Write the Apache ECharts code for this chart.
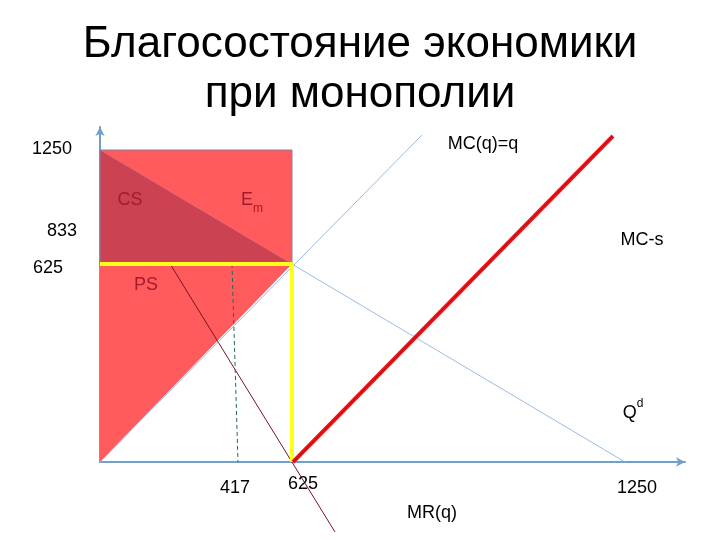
<!DOCTYPE html>
<html>
<head>
<meta charset="utf-8">
<script src="https://cdn.jsdelivr.net/npm/echarts@6/dist/echarts.min.js"></script>
<style>
  html, body { margin: 0; padding: 0; background: #fff; }
  #chart { width: 720px; height: 540px; }
</style>
</head>
<body>
<div id="chart"></div>
<script>
// схема в условных единицах (начало координат = 0,0)
const demandLine = [[0, 312], [525, 0]]        // Qd
const mcLine = [[0, 0], [322, 327]]            // MC(q)=q
const mcTaxLine = [[193, 0], [513, 326]]       // MC-s
const mrLine = [[0, 312], [235, -70]]          // MR(q)
const qEffLine = [[132, 198], [138, 0]]        // 417, пунктир
const yellowLines = [[0, 198], [192, 198], [192, 0]]
const csArea = [[0, 312], [0, 198], [192, 198]]
const emArea = [[0, 312], [192, 312], [192, 198]]
const psArea = [[0, 0], [0, 198], [192, 198]]
const rectArea = [[0, 198], [0, 312], [192, 312], [192, 198]]

const xTickLabels = ['417', '625', '1250']
const yTickLabels = ['1250', '833', '625']
const titleLines = ['Благосостояние экономики', 'при монополии']

const FONT = '"Liberation Sans", Arial, sans-serif'

const chart = echarts.init(document.getElementById('chart'))

function polygonSeries(points, style, z) {
  return {
    type: 'custom',
    z: z,
    silent: true,
    data: [[0, 0]],
    renderItem: function(params, api) {
      return {
        type: 'polygon',
        shape: { points: points.map(p => api.coord(p)) },
        style: style
      }
    }
  }
}

function lineSeries(data, color, width, z, type) {
  return {
    type: 'line',
    data: data,
    symbol: 'none',
    clip: false,
    silent: true,
    z: z,
    lineStyle: { color: color, width: width, type: type || 'solid' }
  }
}

function label(text, x, y, color, rich, size) {
  return {
    type: 'text',
    x: x,
    y: y,
    z: 100,
    style: {
      text: text,
      fill: color || '#000',
      font: (size || 18) + 'px ' + FONT,
      textAlign: 'center',
      textVerticalAlign: 'middle',
      rich: rich
    }
  }
}

chart.setOption({
  animation: false,
  grid: { left: 100, right: 35, top: 127, bottom: 78 },
  xAxis: {
    type: 'value',
    min: 0,
    max: 585,
    axisLine: {
      onZero: true,
      symbol: ['none', 'arrow'],
      symbolSize: [7, 9],
      lineStyle: { color: '#6f9fcb', width: 2 }
    },
    axisTick: { show: false },
    axisLabel: { show: false },
    splitLine: { show: false }
  },
  yAxis: {
    type: 'value',
    min: 0,
    max: 335,
    axisLine: {
      symbol: ['none', 'arrow'],
      symbolSize: [7, 9],
      lineStyle: { color: '#6f9fcb', width: 2 }
    },
    axisTick: { show: false },
    axisLabel: { show: false },
    splitLine: { show: false }
  },
  series: [
    polygonSeries(psArea, { fill: '#ff5a5c' }, 1),
    lineSeries(demandLine, '#9bbbe2', 1, 2),
    lineSeries(mrLine, '#7a1424', 1, 2),
    lineSeries(qEffLine, '#1f6a5e', 1, 2, [4, 3]),
    polygonSeries(emArea, { fill: '#ff5a5c' }, 3),
    polygonSeries(csArea, { fill: '#cc4253' }, 3),
    polygonSeries(rectArea, { fill: 'none', stroke: '#8a7f9c', lineWidth: 1 }, 4),
    lineSeries(mcLine, '#9bbbe2', 1, 4),
    lineSeries(yellowLines, '#ffff1a', 4, 6),
    lineSeries(mcTaxLine, '#f01418', 4, 7),
    lineSeries(mcTaxLine, '#b00a10', 1, 8)
  ],
  graphic: [
    label(titleLines[0], 360, 45, '#000', null, 44),
    label(titleLines[1], 360, 95, '#000', null, 44),
    label(yTickLabels[0], 52, 149),
    label(yTickLabels[1], 62, 231),
    label(yTickLabels[2], 48, 268),
    label(xTickLabels[0], 235, 488),
    label(xTickLabels[1], 303, 484),
    label(xTickLabels[2], 637, 488),
    label('CS', 130, 200, '#a31c2c'),
    label('{e|E}{m|m}', 252, 203, '#a31c2c', {
      e: { fontSize: 18, fontFamily: FONT, fill: '#a31c2c', verticalAlign: 'top', lineHeight: 24 },
      m: { fontSize: 12, fontFamily: FONT, fill: '#a31c2c', verticalAlign: 'bottom', lineHeight: 24 }
    }),
    label('PS', 146, 285, '#a31c2c'),
    label('MC(q)=q', 483, 144),
    label('MC-s', 642, 240),
    label('{q|Q}{d|d}', 633, 410, '#000', {
      q: { fontSize: 18, fontFamily: FONT, fill: '#000', verticalAlign: 'bottom', lineHeight: 24 },
      d: { fontSize: 12, fontFamily: FONT, fill: '#000', verticalAlign: 'top', lineHeight: 24 }
    }),
    label('MR(q)', 432, 513)
  ]
})
</script>
</body>
</html>
